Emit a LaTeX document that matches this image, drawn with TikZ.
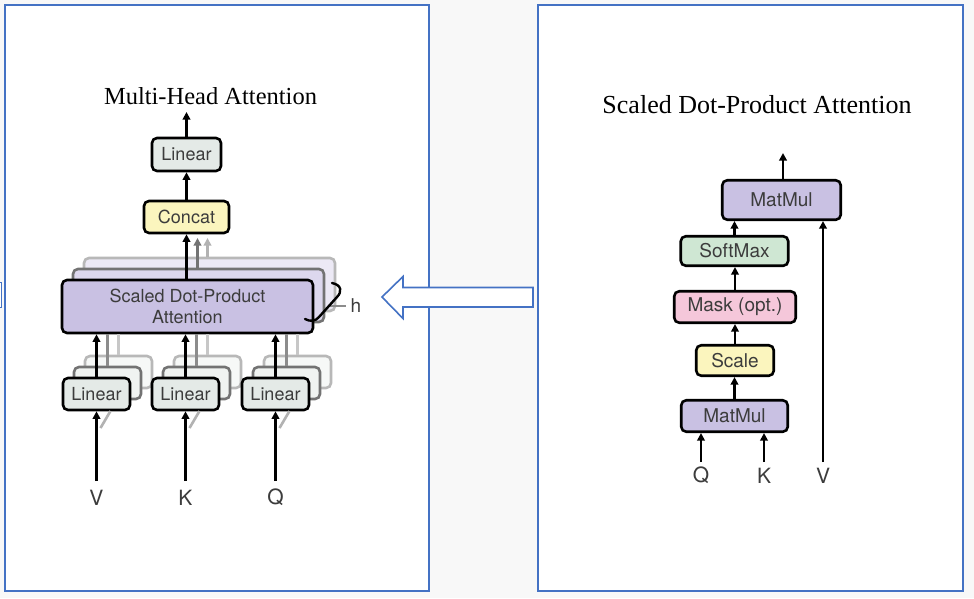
\documentclass[tikz,border=0pt]{standalone}
\usepackage{fontspec}
\usetikzlibrary{arrows.meta}
\newfontfamily\hvfont{TeX Gyre Heros}
\newfontfamily\tmfont{Liberation Serif}
\definecolor{panelblue}{HTML}{4472C4}
\definecolor{bggray}{HTML}{F8F8F8}
\definecolor{txtgray}{HTML}{3C3C3C}
\definecolor{linfill}{HTML}{E4EAE7}
\definecolor{linshade}{HTML}{F0F3F1}
\definecolor{yelfill}{HTML}{FBF5BE}
\definecolor{lavfill}{HTML}{C9C1E3}
\definecolor{lavshadeA}{HTML}{DDD8EE}
\definecolor{lavshadeB}{HTML}{ECE9F5}
\definecolor{grnfill}{HTML}{CFE7D3}
\definecolor{pnkfill}{HTML}{F5C7DA}
\tikzset{
  opbox/.style={draw=black, line width=2.6pt, rounded corners=5pt, inner sep=0pt,
    text=txtgray, font=\hvfont\fontsize{18}{21}\selectfont, align=center},
  opboxR/.style={opbox, font=\hvfont\fontsize{19}{22}\selectfont},
  shadeA/.style={draw=black!55, line width=2.6pt, rounded corners=5pt, inner sep=0pt},
  shadeB/.style={draw=black!28, line width=2.6pt, rounded corners=5pt, inner sep=0pt},
  flow/.style={line width=2.4pt, -{Triangle[length=7.5pt,width=7.5pt]}},
  flowA/.style={flow, draw=black!55, color=black!55},
  flowB/.style={flow, draw=black!30, color=black!30},
  lbl/.style={text=txtgray, font=\hvfont\fontsize{21}{24}\selectfont, inner sep=0pt},
  panel/.style={draw=panelblue, line width=2pt, fill=white},
  hollow/.style={draw=panelblue, line width=1.6pt, fill=white, line join=miter}
}
\begin{document}
\begin{tikzpicture}[x=1pt,y=-1pt]
\useasboundingbox (0,0) rectangle (974,598);
\fill[bggray] (0,0) rectangle (974,598);
% panels
\path[panel] (5,5) rectangle (429,591);
\path[panel] (538,5) rectangle (963,591);
\path[hollow] (-6,282.5) rectangle (1.5,307.5);

% ---------------- left: multi-head attention ----------------
\node[anchor=base, font=\tmfont\fontsize{24.5}{28}\selectfont, inner sep=0pt] (mhtitle) at (210.5,104) {Multi-Head Attention};

% shadow copies of Linear boxes
\foreach \cx/\nm in {96.5/a,185.5/b,275.5/c}{
  \node[shadeB, fill=linshade!60, minimum width=67pt, minimum height=32pt] (linsB\nm) at (\cx+22,372) {};
  \node[shadeA, fill=linshade, minimum width=67pt, minimum height=32pt] (linsA\nm) at (\cx+11,383) {};
}
% shadow copies of SDPA
\node[shadeB, fill=lavshadeB, minimum width=251pt, minimum height=53pt] (sdpaB) at (209.5,284.5) {};
\node[shadeA, fill=lavshadeA, minimum width=251pt, minimum height=53pt] (sdpaA) at (198.5,295.5) {};

\node[opbox, fill=linfill, minimum width=69pt, minimum height=33pt] (linT) at (186.5,154.5) {Linear};
\node[opbox, fill=yelfill, minimum width=85pt, minimum height=32pt] (concat) at (186.5,217) {Concat};
\node[opbox, fill=lavfill, minimum width=251pt, minimum height=53pt] (sdpa) at (187.5,306.5) {Scaled Dot-Product\\Attention};
\node[opbox, fill=linfill, minimum width=67pt, minimum height=32pt] (lin1) at (96.5,394) {Linear};
\node[opbox, fill=linfill, minimum width=67pt, minimum height=32pt] (lin2) at (185.5,394) {Linear};
\node[opbox, fill=linfill, minimum width=67pt, minimum height=32pt] (lin3) at (275.5,394) {Linear};

% shadow connectors from Linear shadows into SDPA
\foreach \nm in {a,b,c}{
  \draw[line width=2.4pt, black!22] (linsB\nm.north) -- (linsB\nm.north |- sdpa.south);
  \draw[line width=2.4pt, black!45] (linsA\nm.north) -- (linsA\nm.north |- sdpa.south);
}
% gray arrows from SDPA shadows into Concat
\coordinate (gA) at (197.5,238);
\coordinate (gB) at (207.5,238);
\draw[flowB] (sdpaB.north -| gB) -- (gB);
\draw[flowA] (sdpaA.north -| gA) -- (gA);

% main connectors
\coordinate (mhOut) at (186.5,112);
\draw[flow] (linT.north) -- (mhOut);
\draw[flow] (concat.north) -- (linT.south);
\draw[flow] (sdpa.north -| concat.south) -- (concat.south);
\draw[flow] (lin1.north) -- (lin1.north |- sdpa.south);
\draw[flow] (lin2.north) -- (lin2.north |- sdpa.south);
\draw[flow] (lin3.north) -- (lin3.north |- sdpa.south);

% inputs
\node[lbl] (vL) at (96.5,497.5) {V};
\node[lbl] (kL) at (185.5,497.5) {K};
\node[lbl] (qL) at (275.5,497.5) {Q};
\coordinate (vIn) at (96.5,481);
\coordinate (kIn) at (185.5,481);
\coordinate (qIn) at (275.5,481);
\foreach \cx in {96.5,185.5,275.5}{
  \draw[line width=2.6pt, black!30] (\cx+4,428) -- (\cx+14,411);
}
\draw[flow] (vIn) -- (lin1.south);
\draw[flow] (kIn) -- (lin2.south);
\draw[flow] (qIn) -- (lin3.south);

% h bracket
\draw[line width=1.8pt, black!45] (328,306) -- (346,306);
\draw[line width=2.4pt, line cap=round] (332,283) .. controls (342,285) and (342,292) .. (337,297)
  -- (319,317) .. controls (316,321) and (310,322) .. (305,319);
\node[text=txtgray, font=\hvfont\fontsize{19}{22}\selectfont, inner sep=0pt] (hL) at (356,306) {h};

% hollow arrow
\path[hollow] (533,287.5) -- (403,287.5) -- (403,276.5) -- (382,297) -- (403,318.5) -- (403,307) -- (533,307) -- cycle;

% ---------------- right: scaled dot-product attention ----------------
\node[anchor=base, font=\tmfont\fontsize{26}{30}\selectfont, inner sep=0pt] (sdtitle) at (757,113) {Scaled Dot-Product Attention};

\node[opboxR, fill=lavfill, minimum width=118.5pt, minimum height=39.5pt] (mm2) at (781.5,200) {MatMul};
\node[opboxR, fill=grnfill, minimum width=107.5pt, minimum height=29.5pt] (soft) at (734.5,251) {SoftMax};
\node[opboxR, fill=pnkfill, minimum width=121.5pt, minimum height=31.5pt] (mask) at (735,307) {Mask (opt.)};
\node[opboxR, fill=yelfill, minimum width=77.5pt, minimum height=30.5pt] (scale) at (735,360.5) {Scale};
\node[opboxR, fill=lavfill, minimum width=106.5pt, minimum height=31.5pt] (mm1) at (734.5,416) {MatMul};

\coordinate (sdOut) at (783,153);
\draw[flow] (mm2.north -| sdOut) -- (sdOut);
\draw[flow] (soft.north) -- (soft.north |- mm2.south);
\draw[flow] (mask.north) -- (mask.north |- soft.south);
\draw[flow] (scale.north) -- (scale.north |- mask.south);
\draw[flow] (mm1.north) -- (mm1.north |- scale.south);

\node[lbl] (qR) at (701,475.5) {Q};
\node[lbl] (kR) at (764,475.5) {K};
\node[lbl] (vR) at (823,475.5) {V};
\coordinate (qRin) at (701,462);
\coordinate (kRin) at (764,462);
\coordinate (vRin) at (823,462);
\draw[flow] (qRin) -- (qRin |- mm1.south);
\draw[flow] (kRin) -- (kRin |- mm1.south);
\draw[flow] (vRin) -- (vRin |- mm2.south);
\end{tikzpicture}
\end{document}
